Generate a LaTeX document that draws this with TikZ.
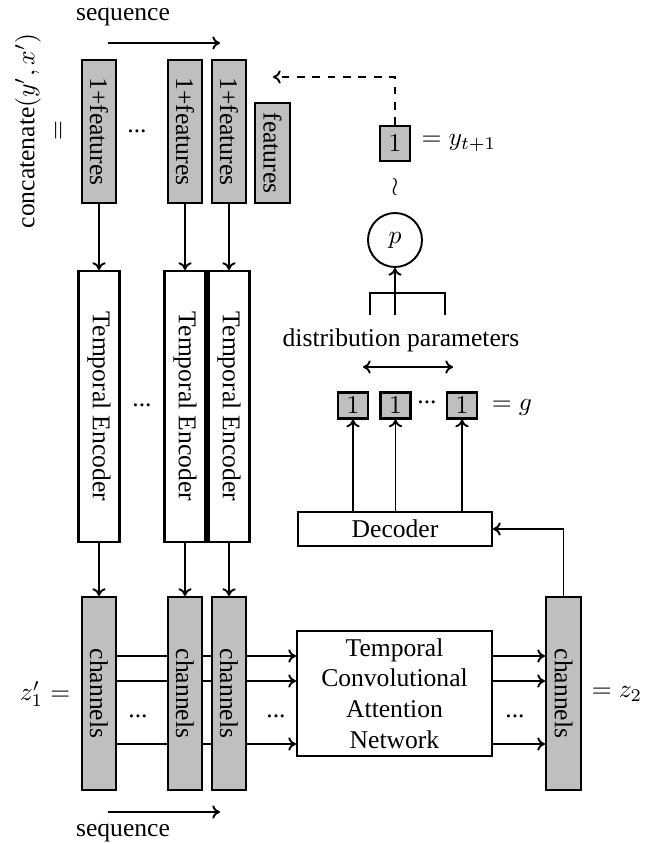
\documentclass[tikz,border=0pt]{standalone}
\usepackage{fontspec}
\setmainfont{Liberation Serif}
\usepackage{graphicx}
\usetikzlibrary{arrows.meta}
\newcommand\pxu{0.3906pt}
\begin{document}
\begin{tikzpicture}[x=0.3906pt,y=-0.3906pt,
  box/.style={draw, line width=0.8pt, inner sep=0pt, align=center},
  gbox/.style={box, fill=lightgray},
  arr/.style={-{To[length=3pt,width=5.2pt]}, line width=0.75pt},
  ln/.style={line width=0.75pt},
  lbl/.style={inner sep=0pt}]
\useasboundingbox (0,0) rectangle (656,844);

% feature boxes
\node[gbox, minimum width=34*\pxu, minimum height=143*\pxu] (f1) at (99,131.5) {\rotatebox{-90}{1+features}};
\node[gbox, minimum width=34*\pxu, minimum height=143*\pxu] (f2) at (185,131.5) {\rotatebox{-90}{1+features}};
\node[gbox, minimum width=34*\pxu, minimum height=143*\pxu] (f3) at (229,131.5) {\rotatebox{-90}{1+features}};
\node[gbox, minimum width=35*\pxu, minimum height=100*\pxu] (f4) at (272.5,153) {\rotatebox{-90}{features}};
\node[lbl] (fdots) at (137,131) {...};

% left label
\node[lbl, rotate=90] (concat) at (28,131) {concatenate$(y',x')$};
\node[lbl, rotate=90] (eqc) at (60,131) {$=$};

% sequence top
\coordinate (st1) at (108,43);
\coordinate (st2) at (220,43);
\draw[arr] (st1) -- (st2);
\node[lbl] (seqtop) at (123,17) {sequence};

% encoders
\node[box, minimum width=41*\pxu, minimum height=271*\pxu] (e1) at (99,406.5) {\rotatebox{-90}{Temporal Encoder}};
\node[box, minimum width=41*\pxu, minimum height=271*\pxu] (e2) at (185,406.5) {\rotatebox{-90}{Temporal Encoder}};
\node[box, minimum width=41*\pxu, minimum height=271*\pxu] (e3) at (229,406.5) {\rotatebox{-90}{Temporal Encoder}};
\node[lbl] (edots) at (142,405) {...};

% channels
\node[gbox, minimum width=34*\pxu, minimum height=193*\pxu] (c1) at (99,693.5) {\rotatebox{-90}{channels}};
\node[gbox, minimum width=34*\pxu, minimum height=193*\pxu] (c2) at (185,693.5) {\rotatebox{-90}{channels}};
\node[gbox, minimum width=34*\pxu, minimum height=193*\pxu] (c3) at (229,693.5) {\rotatebox{-90}{channels}};
\node[gbox, minimum width=35*\pxu, minimum height=193*\pxu] (c4) at (563.5,693.5) {\rotatebox{-90}{channels}};
\node[lbl] (zl) at (45,694) {$z_1'=$};
\node[lbl] (zr) at (617,694) {$=z_2$};
\node[lbl] (cd1) at (138,716) {...};
\node[lbl] (cd2) at (276,716) {...};
\node[lbl] (cd3) at (515,716) {...};

% TCAN
\node[box, minimum width=195*\pxu, minimum height=125*\pxu] (tcan) at (394.5,693.5) {Temporal\\Convolutional\\Attention\\Network};

% sequence bottom
\coordinate (sb1) at (108,812);
\coordinate (sb2) at (220,812);
\draw[arr] (sb1) -- (sb2);
\node[lbl] (seqbot) at (123,833) {sequence};

% vertical arrows
\draw[arr] (f1) -- (e1);
\draw[arr] (f2) -- (e2);
\draw[arr] (f3) -- (e3);
\draw[arr] (e1) -- (c1);
\draw[arr] (e2) -- (c2);
\draw[arr] (e3) -- (c3);

% horizontal lines
\foreach \yy in {656,681,744} {
  \coordinate (h\yy) at (0,\yy);
  \draw[ln] (c1.east |- h\yy) -- (c2.west |- h\yy);
  \draw[ln] (c2.east |- h\yy) -- (c3.west |- h\yy);
  \draw[arr] (c3.east |- h\yy) -- (tcan.west |- h\yy);
  \draw[arr] (tcan.east |- h\yy) -- (c4.west |- h\yy);
}

% decoder
\node[box, minimum width=194*\pxu, minimum height=34*\pxu] (dec) at (395,529) {Decoder};
\draw[arr] (c4.north) |- (dec.east);

% g boxes
\node[gbox, minimum width=30*\pxu, minimum height=26*\pxu] (g1) at (353,405.5) {$1$};
\node[gbox, minimum width=30*\pxu, minimum height=26*\pxu] (g2) at (395.5,405.5) {$1$};
\node[gbox, minimum width=30*\pxu, minimum height=26*\pxu] (g3) at (462,405.5) {$1$};
\node[lbl] (gdots) at (427,402) {...};
\node[lbl] (geq) at (512,407) {$=g$};
\draw[arr] (dec.north -| g1) -- (g1);
\draw[arr] (dec.north -| g2) -- (g2);
\draw[arr] (dec.north -| g3) -- (g3);

% distribution parameters
\coordinate (da1) at (363,367);
\coordinate (da2) at (453,367);
\draw[{To[length=3pt,width=5.2pt]}-{To[length=3pt,width=5.2pt]}, line width=0.75pt] (da1) -- (da2);
\node[lbl] (dist) at (401,340) {distribution parameters};

% bracket
\coordinate (bl) at (370,315);
\coordinate (blt) at (370,293);
\coordinate (brt) at (445,293);
\coordinate (br) at (445,315);
\coordinate (bc) at (395,315);
\draw[ln] (bl) -- (blt) -- (brt) -- (br);

% p circle
\node[circle, draw, line width=0.75pt, minimum size=54*\pxu, inner sep=0pt] (p) at (395,240) {$p$};
\draw[arr] (bc) -- (p);
\node[lbl] (wr) at (395,187) {$\wr$};

% y box
\node[gbox, minimum width=30*\pxu, minimum height=35*\pxu] (yb) at (395,143.5) {$1$};
\node[lbl, anchor=west] (yeq) at (421,143) {$=y_{t+1}$};
\coordinate (dend) at (273,77);
\draw[arr, dashed] (yb.north) |- (dend);

\end{tikzpicture}
\end{document}
